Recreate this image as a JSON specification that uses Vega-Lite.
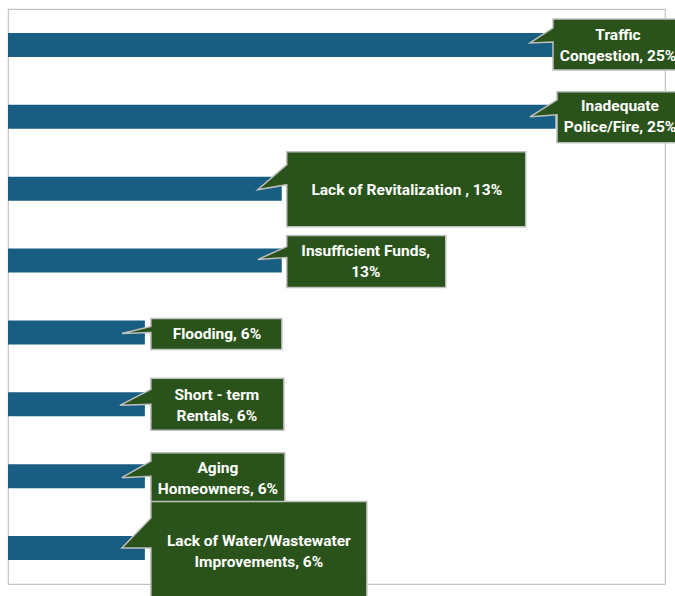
{
  "$schema": "https://vega.github.io/schema/vega-lite/v6.json",
  "autosize": "none",
  "width": 657,
  "height": 575,
  "padding": {"left": 8, "top": 9, "right": 10, "bottom": 12},
  "config": {"view": {"stroke": "#c4c4c4", "strokeWidth": 1.2}, "text": {"font": "Roboto", "fontWeight": "bold", "fontSize": 15.5, "lineHeight": 21, "fill": "#ffffff", "align": "center", "baseline": "middle"}},
  "data": {"values": [
    {"category": "Traffic Congestion", "value": 25, "label": ["Traffic", "Congestion, 25%"]},
    {"category": "Inadequate Police/Fire", "value": 25, "label": ["Inadequate", "Police/Fire, 25%"]},
    {"category": "Lack of Revitalization", "value": 12.5, "label": ["Lack of Revitalization , 13%"]},
    {"category": "Insufficient Funds", "value": 12.5, "label": ["Insufficient Funds,", "13%"]},
    {"category": "Flooding", "value": 6.25, "label": ["Flooding, 6%"]},
    {"category": "Short - term Rentals", "value": 6.25, "label": ["Short - term", "Rentals, 6%"]},
    {"category": "Aging Homeowners", "value": 6.25, "label": ["Aging", "Homeowners, 6%"]},
    {"category": "Lack of Water/Wastewater Improvements", "value": 6.25, "label": ["Lack of Water/Wastewater", "Improvements, 6%"]}
  ]},
  "encoding": {
    "x": {"field": "value", "type": "quantitative", "scale": {"domain": [0, 30], "nice": false, "zero": true}, "axis": null},
    "y": {"field": "category", "type": "nominal", "sort": null, "scale": {"paddingInner": 0, "paddingOuter": 0}, "axis": null}
  },
  "layer": [
    {"mark": {"type": "bar", "height": 24, "color": "#175E82"}},

    {"transform": [{"filter": "datum.category === 'Traffic Congestion'"}],
     "mark": {"type": "point", "size": 4, "filled": true, "fill": "#29531A", "stroke": "#c0c0c0", "strokeWidth": 1.5, "opacity": 1,
              "shape": "M -2.5 -26 L 130 -26 L 130 25 L -2.5 25 L -2.5 -3 L -25.5 -2 L -2.5 -17 Z"}},
    {"transform": [{"filter": "datum.category === 'Traffic Congestion'"}],
     "mark": {"type": "text", "dx": 62.5, "dy": -9.5},
     "encoding": {"text": {"field": "label"}}},

    {"transform": [{"filter": "datum.category === 'Inadequate Police/Fire'"}],
     "mark": {"type": "point", "size": 4, "filled": true, "fill": "#29531A", "stroke": "#c0c0c0", "strokeWidth": 1.5, "opacity": 1,
              "shape": "M 1.5 -25 L 130 -25 L 130 26 L 1.5 26 L 1.5 -2 L -25.5 0 L 1.5 -17 Z"}},
    {"transform": [{"filter": "datum.category === 'Inadequate Police/Fire'"}],
     "mark": {"type": "text", "dx": 64.5, "dy": -10.5},
     "encoding": {"text": {"field": "label"}}},

    {"transform": [{"filter": "datum.category === 'Lack of Revitalization'"}],
     "mark": {"type": "point", "size": 4, "filled": true, "fill": "#29531A", "stroke": "#c0c0c0", "strokeWidth": 1.5, "opacity": 1,
              "shape": "M 5 -37 L 244 -37 L 244 38 L 5 38 L 5 -4 L -24 1 L 5 -24 Z"}},
    {"transform": [{"filter": "datum.category === 'Lack of Revitalization'"}],
     "mark": {"type": "text", "dx": 125, "dy": 1},
     "encoding": {"text": {"field": "label"}}},

    {"transform": [{"filter": "datum.category === 'Insufficient Funds'"}],
     "mark": {"type": "point", "size": 4, "filled": true, "fill": "#29531A", "stroke": "#c0c0c0", "strokeWidth": 1.5, "opacity": 1,
              "shape": "M 5 -25 L 164 -25 L 164 27 L 5 27 L 5 -3 L -24 -1 L 5 -14 Z"}},
    {"transform": [{"filter": "datum.category === 'Insufficient Funds'"}],
     "mark": {"type": "text", "dx": 84, "dy": -9.5},
     "encoding": {"text": {"field": "label"}}},

    {"transform": [{"filter": "datum.category === 'Flooding'"}],
     "mark": {"type": "point", "size": 4, "filled": true, "fill": "#29531A", "stroke": "#c0c0c0", "strokeWidth": 1.5, "opacity": 1,
              "shape": "M 6 -14 L 137 -14 L 137 17 L 6 17 L 6 0 L -23 1 L 6 -6 Z"}},
    {"transform": [{"filter": "datum.category === 'Flooding'"}],
     "mark": {"type": "text", "dx": 72, "dy": 2},
     "encoding": {"text": {"field": "label"}}},

    {"transform": [{"filter": "datum.category === 'Short - term Rentals'"}],
     "mark": {"type": "point", "size": 4, "filled": true, "fill": "#29531A", "stroke": "#c0c0c0", "strokeWidth": 1.5, "opacity": 1,
              "shape": "M 6 -26 L 139 -26 L 139 26 L 6 26 L 6 0 L -25 1 L 6 -15 Z"}},
    {"transform": [{"filter": "datum.category === 'Short - term Rentals'"}],
     "mark": {"type": "text", "dx": 72, "dy": -9},
     "encoding": {"text": {"field": "label"}}},

    {"transform": [{"filter": "datum.category === 'Aging Homeowners'"}],
     "mark": {"type": "point", "size": 4, "filled": true, "fill": "#29531A", "stroke": "#c0c0c0", "strokeWidth": 1.5, "opacity": 1,
              "shape": "M 6 -23.5 L 140 -23.5 L 140 26.5 L 6 26.5 L 6 0 L -23 1.5 L 6 -15 Z"}},
    {"transform": [{"filter": "datum.category === 'Aging Homeowners'"}],
     "mark": {"type": "text", "dx": 73, "dy": -8},
     "encoding": {"text": {"field": "label"}}},

    {"transform": [{"filter": "datum.category === 'Lack of Water/Wastewater Improvements'"}],
     "mark": {"type": "point", "size": 4, "filled": true, "fill": "#29531A", "stroke": "#c0c0c0", "strokeWidth": 1.5, "opacity": 1,
              "shape": "M 6 -46.5 L 222 -46.5 L 222 60 L 6 60 L 6 0 L -23 0 L 6 -30 Z"}},
    {"transform": [{"filter": "datum.category === 'Lack of Water/Wastewater Improvements'"}],
     "mark": {"type": "text", "dx": 114, "dy": -7.5},
     "encoding": {"text": {"field": "label"}}}
  ]
}
